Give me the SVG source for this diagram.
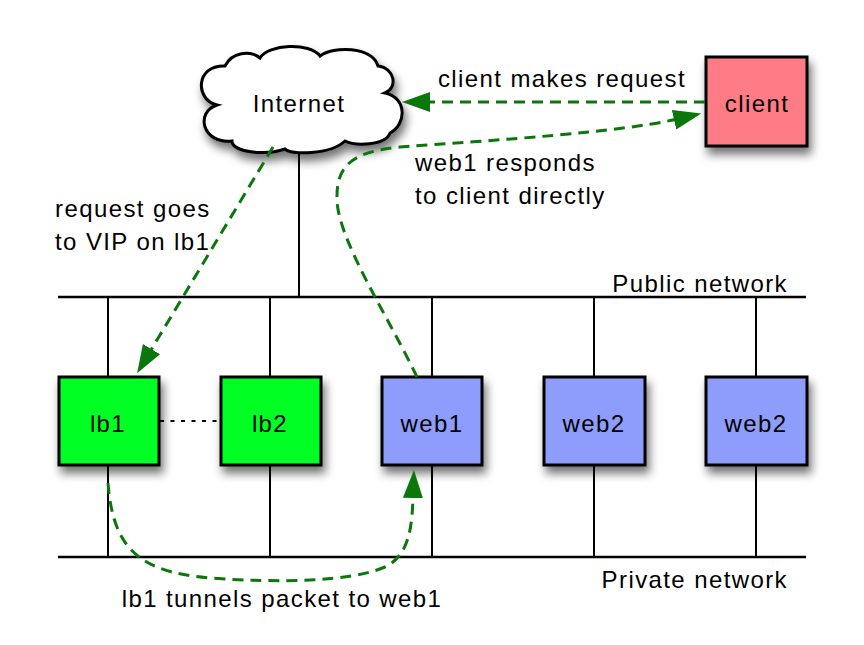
<svg xmlns="http://www.w3.org/2000/svg" width="864" height="645" viewBox="0 0 864 645">
<style>
  text { font-family: "Liberation Sans", Arial, sans-serif; font-size: 24px; letter-spacing: 1.4px; fill: #000; }
  .mid { text-anchor: middle; }
  .end { text-anchor: end; }
  .net { stroke: #000; stroke-width: 2.6; fill: none; }
  .drop { stroke: #000; stroke-width: 2; fill: none; }
  .box { stroke: #000; stroke-width: 3; }
  .lb { fill: #00ff24; }
  .web { fill: #8e9dfc; }
  .client { fill: #ff7b87; }
  .flow { stroke: #0b770b; stroke-width: 3; fill: none; stroke-dasharray: 11 7; }
</style>
<defs>
  <filter id="shadow" x="-30%" y="-30%" width="170%" height="180%">
    <feDropShadow dx="3" dy="7" stdDeviation="5" flood-color="#000" flood-opacity="0.55"/>
  </filter>
  <marker id="arrow" markerUnits="userSpaceOnUse" markerWidth="30" markerHeight="22" refX="1" refY="10" orient="auto">
    <path d="M0,0 L28,10 L0,20 z" fill="#0b770b"/>
  </marker>
</defs>

<rect width="864" height="645" fill="#fff"/>

<g id="networks">
  <line class="net" x1="58" y1="297" x2="806" y2="297"/>
  <line class="net" x1="58" y1="557" x2="806" y2="557"/>
  <line class="drop" x1="299" y1="148" x2="299" y2="297"/>
  <line class="drop" x1="108" y1="297" x2="108" y2="377"/>
  <line class="drop" x1="270" y1="297" x2="270" y2="377"/>
  <line class="drop" x1="432" y1="297" x2="432" y2="377"/>
  <line class="drop" x1="594" y1="297" x2="594" y2="377"/>
  <line class="drop" x1="756" y1="297" x2="756" y2="377"/>
  <line class="drop" x1="108" y1="465" x2="108" y2="557"/>
  <line class="drop" x1="270" y1="465" x2="270" y2="557"/>
  <line class="drop" x1="432" y1="465" x2="432" y2="557"/>
  <line class="drop" x1="594" y1="465" x2="594" y2="557"/>
  <line class="drop" x1="756" y1="465" x2="756" y2="557"/>
  <text class="end" x="788" y="292">Public network</text>
  <text class="end" x="788" y="588">Private network</text>
</g>

<g id="internet">
  <path filter="url(#shadow)" fill="#fff" stroke="#000" stroke-width="3" d="M217,105 C195,100 195,65 225,66 C232,52 250,50 260,58 C268,44 310,42 320,56 C333,46 372,46 378,66 C395,68 398,88 385,93 C408,98 406,125 390,133 C385,146 355,146 345,141 C330,155 290,155 285,149 C265,156 232,152 232,141 C202,144 195,112 217,105 z"/>
  <text class="mid" x="299" y="112">Internet</text>
</g>

<g id="client">
  <rect class="box client" filter="url(#shadow)" x="706" y="57" width="101" height="89"/>
  <text class="mid" x="757" y="112">client</text>
</g>

<g id="lb1">
  <rect class="box lb" filter="url(#shadow)" x="59" y="377" width="100" height="88"/>
  <text class="mid" x="108" y="432">lb1</text>
</g>
<g id="lb2">
  <rect class="box lb" filter="url(#shadow)" x="221" y="377" width="100" height="88"/>
  <text class="mid" x="270" y="432">lb2</text>
</g>
<g id="web1">
  <rect class="box web" filter="url(#shadow)" x="382" y="377" width="100" height="88"/>
  <text class="mid" x="432" y="432">web1</text>
</g>
<g id="web2a">
  <rect class="box web" filter="url(#shadow)" x="544" y="377" width="101" height="88"/>
  <text class="mid" x="594" y="432">web2</text>
</g>
<g id="web2b">
  <rect class="box web" filter="url(#shadow)" x="706" y="377" width="101" height="88"/>
  <text class="mid" x="756" y="432">web2</text>
</g>

<g id="connectors">
  <line x1="160" y1="421" x2="220" y2="421" stroke="#000" stroke-width="2.2" stroke-dasharray="4 6.5"/>
  <path class="flow" marker-end="url(#arrow)" d="M705,102 L429,102"/>
  <path class="flow" marker-end="url(#arrow)" d="M273,147 L151,350"/>
  <path class="flow" marker-end="url(#arrow)" d="M417,377 C390,320 338,240 337,200 C336,165 352,152 400,147 C500,140 620,132 675,119.5"/>
  <path class="flow" marker-end="url(#arrow)" d="M108,483 C113,545 135,572 210,578 C280,583 350,582 385,567 C410,555 412,525 413,497"/>
  <text class="mid" x="562" y="87">client makes request</text>
  <text x="415" y="171">web1 responds</text>
  <text x="415" y="204">to client directly</text>
  <text x="55" y="217">request goes</text>
  <text x="55" y="250">to VIP on lb1</text>
  <text class="mid" x="282" y="607">lb1 tunnels packet to web1</text>
</g>
</svg>
